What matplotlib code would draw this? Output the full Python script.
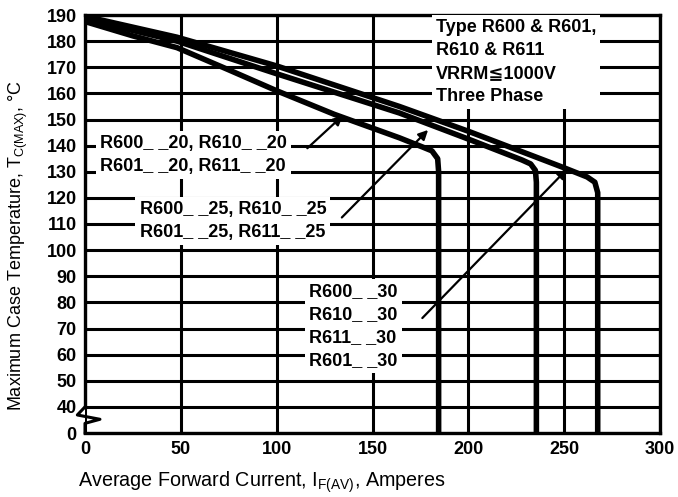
import numpy as np
import matplotlib
matplotlib.use("Agg")
import matplotlib.pyplot as plt

plt.rcParams['font.family'] = ['Liberation Sans', 'DejaVu Sans']

# ---- data ----
cur_20 = [0, 25, 48, 75, 100, 130, 164, 176, 181, 184, 184.5, 184.5]
tc_20 = [187.5, 182, 177.5, 169, 161, 152, 143, 139.5, 138, 135, 130, 0]

cur_25 = [0, 48, 100, 164, 200, 228, 232.5, 235, 235.5, 235.5]
tc_25 = [188.5, 180, 167.5, 152.5, 142.5, 134.5, 133, 130.5, 126, 0]

cur_30 = [0, 48, 100, 164, 200, 250, 262, 266, 267.5, 267.5]
tc_30 = [189.5, 181.5, 170.5, 155, 145.5, 131.5, 128, 126, 122, 0]

xticks = [0, 50, 100, 150, 200, 250, 300]
yticks = [0, 40, 50, 60, 70, 80, 90, 100, 110, 120, 130, 140, 150, 160, 170, 180, 190]

label_20 = "R600_ _20, R610_ _20\nR601_ _20, R611_ _20"
label_25 = "R600_ _25, R610_ _25\nR601_ _25, R611_ _25"
label_30 = "R600_ _30\nR610_ _30\nR611_ _30\nR601_ _30"
info_text = "Type R600 & R601,\nR610 & R611\nVRRM\u22661000V\nThree Phase"


def fwd(t):
    t = np.asarray(t, dtype=float)
    return np.where(t >= 40, t - 30, t / 4.0)


def inv(p):
    p = np.asarray(p, dtype=float)
    return np.where(p >= 10, p + 30, p * 4.0)


fig = plt.figure(figsize=(6.78, 4.97), dpi=100)
ax = fig.add_axes([85 / 678, 1 - 433 / 497, (660 - 85) / 678, (433 - 15) / 497])
ax.set_yscale('function', functions=(fwd, inv))
ax.set_xlim(0, 300)
ax.set_ylim(0, 190)

ax.set_xticks(xticks)
ax.set_yticks(yticks)
ax.tick_params(length=0, labelsize=13, pad=6)
for lab in ax.get_xticklabels() + ax.get_yticklabels():
    lab.set_fontweight('bold')
ax.grid(True, color='black', lw=2.2, zorder=1)
ax.set_axisbelow(True)
for s in ax.spines.values():
    s.set_linewidth(2.4)
ax.spines['left'].set_bounds(40, 190)

# axis break zigzag on left
ax.plot([0, -4, 7.8, 0, 0], [40, 27.6, 21, 14.8, 0], color='black', lw=2.2,
        clip_on=False, zorder=6)

lw = 4.0
for cx, cy in [(cur_20, tc_20), (cur_25, tc_25), (cur_30, tc_30)]:
    ax.plot(cx, cy, color='black', lw=lw, solid_joinstyle='round',
            solid_capstyle='butt', zorder=5)

box = dict(facecolor='white', edgecolor='none', pad=3)
tkw = dict(fontsize=13, fontweight='bold', color='black', zorder=4,
           bbox=box, linespacing=1.45, va='center', ha='left')
ax.text(8, 136.5, label_20, **tkw)
ax.text(28.5, 111, label_25, **tkw)
ax.text(117, 71, label_30, **tkw)
ax.text(183, 172, info_text, **tkw)

ap = dict(arrowstyle='-|>', color='black', lw=1.6, shrinkA=0, shrinkB=0,
          mutation_scale=14)
ax.annotate('', xy=(134.5, 151.5), xytext=(116, 139), arrowprops=ap, zorder=6)
ax.annotate('', xy=(179, 146), xytext=(134, 112.5), arrowprops=ap, zorder=6)
ax.annotate('', xy=(251.5, 131), xytext=(176, 74), arrowprops=ap, zorder=6)

fig.text(18 / 678, 1 - 246 / 497,
         "Maximum Case Temperature, T$_{\\mathregular{C(MAX)}}$, \u00b0C",
         rotation=90, fontsize=13, ha='center', va='center')
fig.text(78 / 678, 1 - 482 / 497,
         "Average Forward Current, I$_{\\mathregular{F(AV)}}$, Amperes",
         fontsize=14.2, ha='left', va='center')

fig.savefig('out.png', dpi=100)
